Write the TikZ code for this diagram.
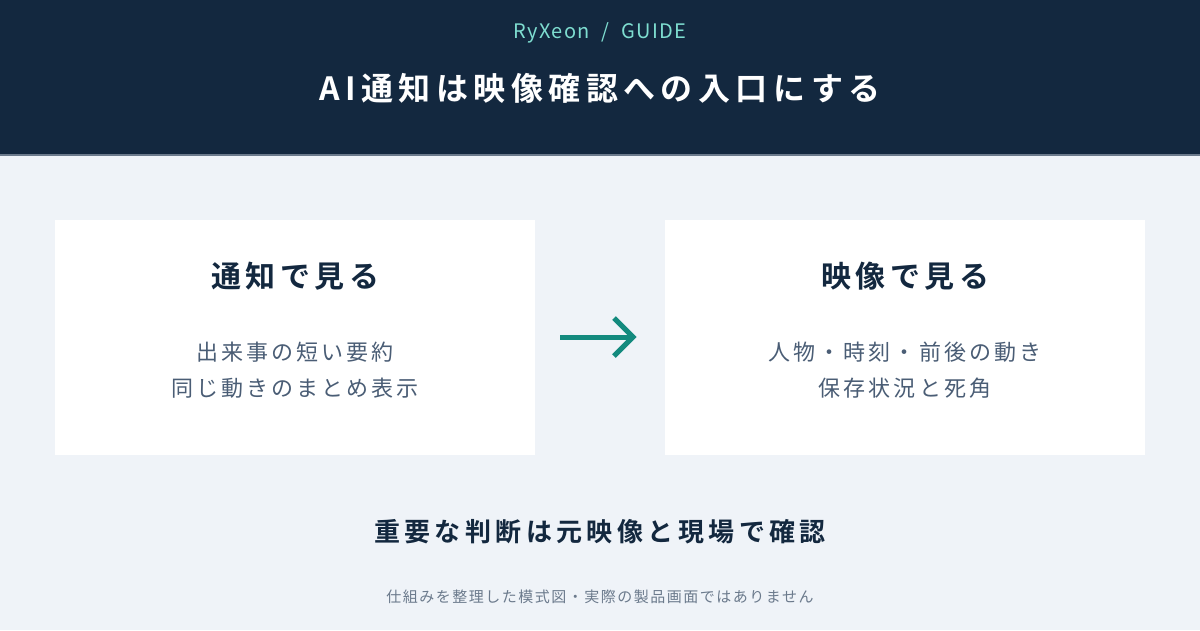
\documentclass[tikz,border=0pt]{standalone}
\usepackage{fontspec}
\setmainfont{Noto Sans CJK JP}[BoldFont={* Bold}]
\definecolor{navy}{HTML}{13283F}
\definecolor{paper}{HTML}{EFF3F8}
\definecolor{mint}{HTML}{7EDDD0}
\definecolor{teal}{HTML}{138A7E}
\definecolor{slate}{HTML}{4A5D75}
\definecolor{mute}{HTML}{6B7A8C}
\newcommand\spaced[1]{\addfontfeatures{LetterSpace=#1}}
\tikzset{
  panel/.style={fill=white,draw=none,minimum width=480pt,minimum height=235pt,anchor=north west},
  paneltitle/.style={font=\fontsize{30}{36}\selectfont\bfseries\spaced{15},text=navy},
  panelbody/.style={font=\fontsize{22}{36}\selectfont\spaced{14},text=slate,align=center},
  flowarrow/.style={line width=5pt,teal}
}
\begin{document}
\begin{tikzpicture}[x=1pt,y=-1pt]
\useasboundingbox (0,0) rectangle (1200,630);
\fill[paper] (0,0) rectangle (1200,630);
\fill[navy] (0,0) rectangle (1200,155);
\fill[mute] (0,154) rectangle (1200,156);
\node (brand) at (600,33) [font=\fontsize{20}{24}\selectfont\spaced{7},text=mint] {RyXeon \ / \ GUIDE};
\node (head) at (600,88) [font=\fontsize{32}{38}\selectfont\bfseries\spaced{17},text=white] {AI通知は映像確認への入口にする};
\node (left) at (55,220) [panel] {};
\node (right) at (665,220) [panel] {};
\node (ltitle) at (295,276) [paneltitle] {通知で見る};
\node (rtitle) at (905,276) [paneltitle] {映像で見る};
\node (lbody) at (295,370) [panelbody] {出来事の短い要約\\同じ動きのまとめ表示};
\node (rbody) at (905,370) [panelbody] {人物・時刻・前後の動き\\保存状況と死角};
\coordinate (a0) at (560,337);
\coordinate (a1) at (633,337);
\draw[flowarrow] (a0) -- (a1);
\draw[flowarrow,line join=miter] (614,318) -- (a1) -- (614,356);
\node (note) at (600,532) [font=\fontsize{26}{30}\selectfont\bfseries\spaced{17},text=navy] {重要な判断は元映像と現場で確認};
\node (foot) at (600,597) [font=\fontsize{15}{18}\selectfont\spaced{10},text=mute] {仕組みを整理した模式図・実際の製品画面ではありません};
\end{tikzpicture}
\end{document}
